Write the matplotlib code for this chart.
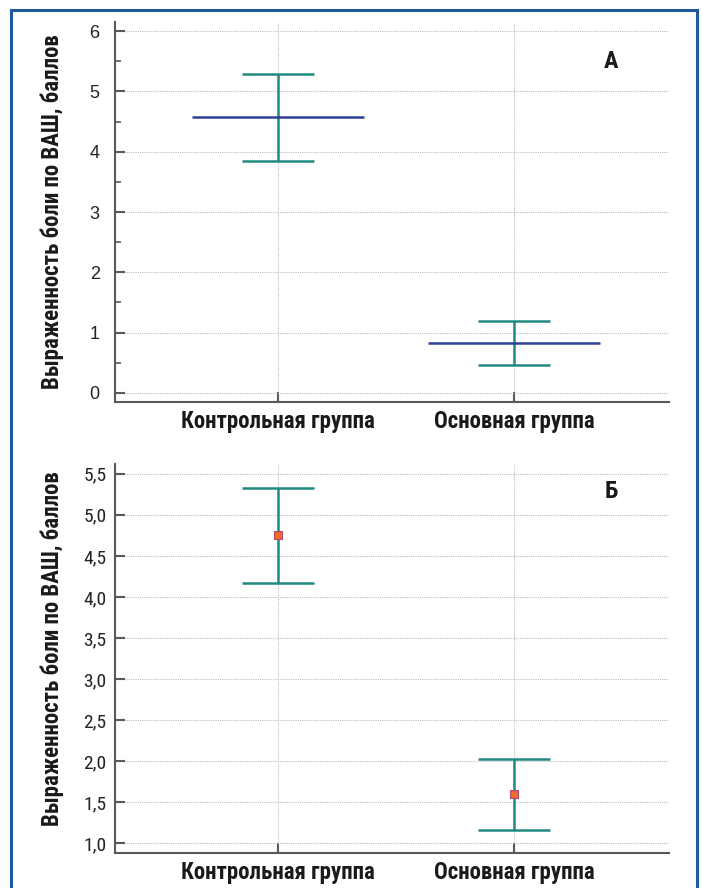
import matplotlib.pyplot as plt
from matplotlib.patches import Rectangle
import numpy as np

groups = ['Контрольная группа', 'Основная группа']

# panel A: mean with 95% CI
a_mean = [4.58, 0.83]
a_lo = [3.85, 0.47]
a_hi = [5.29, 1.19]

# panel B: median with CI
b_mid = [4.76, 1.60]
b_lo = [4.17, 1.16]
b_hi = [5.33, 2.02]

ylab = 'Выраженность боли по ВАШ, баллов'
narrow = ['Roboto Condensed', 'PT Sans Narrow', 'Fira Sans Condensed',
          'Open Sans Condensed', 'DejaVu Sans']
regular = ['Liberation Sans', 'DejaVu Sans']

teal = '#1f8a80'
navy = '#2d3f96'
axcol = '#595959'

fig = plt.figure(figsize=(7.02, 8.88), dpi=100)
fig.patches.append(Rectangle((0.0157, -0.02), 0.9772, 1.0087, transform=fig.transFigure,
                             fill=False, edgecolor='#1f5a9e', linewidth=2.2))

x = np.arange(len(groups))


def style(ax, ticks, ypad, labely, labelsize):
    ax.spines['top'].set_visible(False)
    ax.spines['right'].set_visible(False)
    for s in ['left', 'bottom']:
        ax.spines[s].set_color(axcol)
        ax.spines[s].set_linewidth(1.5)
    ax.set_xlim(-0.69, 1.657)
    ax.set_xticks(x)
    ax.set_xticklabels(groups, family=narrow, fontweight='bold', fontsize=16.5, color='#1a1a1a')
    ax.set_yticks(ticks)
    ax.tick_params(direction='in', length=7, width=1.5, color=axcol)
    ax.tick_params(axis='y', pad=ypad, labelsize=labelsize, labelcolor='#222222')
    ax.tick_params(axis='x', pad=6)
    ax.grid(True, linestyle=(0, (1, 1)), color='#bdbdbd', linewidth=0.8)
    ax.set_axisbelow(True)
    ax.set_ylabel(ylab, family=narrow, fontweight='bold', fontsize=16.5, color='#1a1a1a')
    ax.yaxis.set_label_coords(-0.092, labely)


# panel A
ax1 = fig.add_axes([0.1638, 0.5473, 0.7892, 0.4279])
ax1.set_ylim(-0.15, 6.15)
err = [np.array(a_mean) - np.array(a_lo), np.array(a_hi) - np.array(a_mean)]
ax1.errorbar(x, a_mean, yerr=err, fmt='none', ecolor=teal, elinewidth=1.8,
             capsize=26, capthick=1.8, zorder=3)
ax1.hlines(a_mean, x - 0.365, x + 0.365, color=navy, linewidth=1.8, zorder=4)
style(ax1, np.arange(0, 7, 1), 11, 0.5, 13)
ax1.set_yticklabels([str(v) for v in range(7)])
for t in ax1.get_yticklabels():
    t.set_family(regular)
ax1.set_yticks(np.arange(0.5, 6, 1), minor=True)
ax1.tick_params(axis='y', which='minor', direction='in', length=4, width=1.2, color=axcol)
ax1.text(0.895, 0.895, 'А', transform=ax1.transAxes, ha='center', va='center',
         family=narrow, fontweight='bold', fontsize=17.5, color='#1a1a1a')

# panel B
ax2 = fig.add_axes([0.1638, 0.0394, 0.7892, 0.4381])
ax2.set_ylim(0.878, 5.62)
err = [np.array(b_mid) - np.array(b_lo), np.array(b_hi) - np.array(b_mid)]
ax2.errorbar(x, b_mid, yerr=err, fmt='none', ecolor=teal, elinewidth=1.8,
             capsize=26, capthick=1.8, zorder=3)
ax2.plot(x, b_mid, 's', color='#f26a2a', markeredgecolor='#b04a78',
         markeredgewidth=0.8, markersize=6, linestyle='none', zorder=4)
bt = np.arange(1.0, 5.51, 0.5)
style(ax2, bt, 6, 0.526, 14)
ax2.set_yticklabels([f'{v:.1f}'.replace('.', ',') for v in bt])
for t in ax2.get_yticklabels():
    t.set_family(narrow)
ax2.text(0.895, 0.928, 'Б', transform=ax2.transAxes, ha='center', va='center',
         family=narrow, fontweight='bold', fontsize=17.5, color='#1a1a1a')

fig.savefig('out.png', dpi=100)
